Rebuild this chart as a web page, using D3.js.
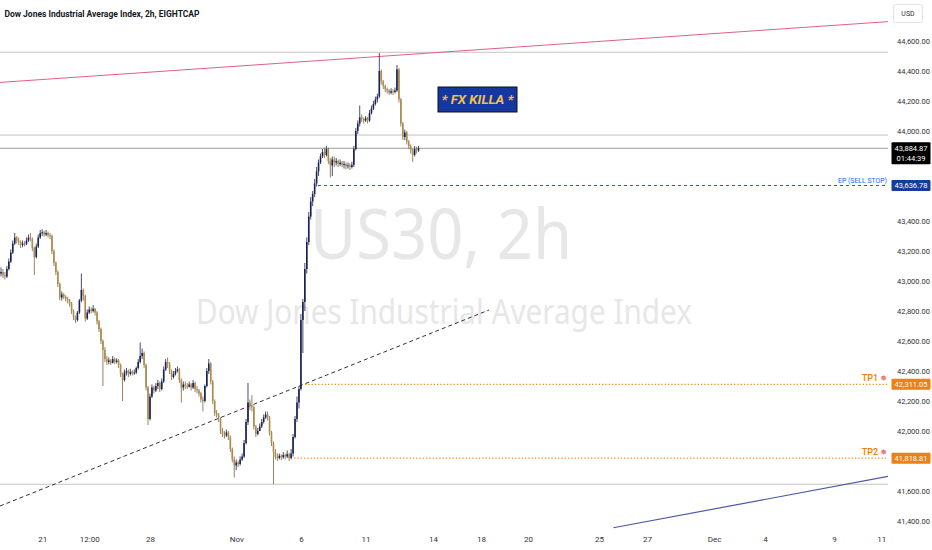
<!DOCTYPE html>
<html><head><meta charset="utf-8">
<script src="https://cdn.jsdelivr.net/npm/d3@7"></script>
<style>
body{margin:0;background:#fff;}
svg{display:block;font-family:Roboto,"Noto Sans",sans-serif;}
</style>
</head><body>
<svg id="c" width="932" height="550"></svg>
<script>
// ---------------- DATA ----------------
const chartTitle = "Dow Jones Industrial Average Index, 2h, EIGHTCAP";
const firstOpen = 43050;
const closes = [
43060,43040,43030,43080,43130,43190,43250,43290,43270,43260,
43240,43250,43245,43270,43290,43280,43220,43160,43230,43290,
43320,43325,43310,43320,43305,43300,43200,43120,43060,42980,
42890,42910,42895,42880,42870,42850,42800,42760,42740,42790,
42870,42940,42900,42750,42790,42810,42800,42815,42790,42730,
42680,42600,42540,42480,42460,42470,42455,42480,42460,42470,
42440,42380,42340,42390,42400,42380,42395,42385,42390,42420,
42460,42500,42520,42440,42290,42080,42230,42290,42270,42300,
42320,42280,42330,42410,42460,42450,42400,42360,42380,42400,
42410,42340,42290,42310,42300,42295,42310,42290,42320,42280,
42270,42250,42210,42200,42300,42400,42450,42330,42200,42120,
42110,42080,42000,41980,41970,41990,41960,41880,41810,41770,
41790,41780,41810,41830,41920,42060,42190,42170,42160,42030,
41980,42000,42030,42060,42090,42110,42090,41990,41920,41860,
41830,41820,41835,41825,41840,41830,41845,41820,41850,41960,
42080,42190,42280,42740,42860,43080,43260,43430,43530,43580,
43650,43730,43790,43830,43860,43840,43880,43800,43770,43810,
43790,43800,43780,43790,43775,43780,43765,43770,43760,43775,
43880,44000,44050,44090,44080,44070,44085,44070,44120,44150,
44180,44210,44230,44400,44330,44300,44280,44270,44255,44265,
44260,44270,44410,44210,44050,43960,43990,43930,43900,43870,
43840,43880,43870,43884.87];
const highs = [
43090,43080,43060,43100,43150,43210,43270,43320,43300,43290,
43270,43270,43265,43290,43310,43320,43290,43230,43250,43310,
43340,43345,43335,43340,43330,43320,43310,43210,43130,43070,
42990,42930,42920,42905,42895,42880,42860,42810,42770,42800,
42880,43050,42950,42910,42810,42830,42825,42840,42820,42800,
42740,42690,42610,42560,42500,42490,42480,42500,42490,42485,
42480,42450,42390,42410,42420,42410,42415,42405,42410,42430,
42480,42590,42550,42530,42450,42300,42250,42310,42300,42320,
42340,42330,42350,42430,42480,42490,42460,42410,42400,42420,
42430,42420,42350,42330,42330,42320,42330,42320,42340,42330,
42300,42280,42260,42230,42310,42420,42480,42460,42340,42210,
42140,42120,42090,42020,42000,42010,42000,41970,41890,41830,
41810,41800,41830,41850,41940,42080,42320,42210,42240,42170,
42040,42020,42050,42080,42110,42130,42130,42100,42000,41930,
41880,41850,41850,41845,41860,41850,41870,41855,41880,41980,
42100,42230,42300,42780,42880,43120,43290,43460,43560,43600,
43680,43760,43810,43850,43880,43890,43900,43890,43820,43830,
43830,43820,43810,43810,43800,43800,43790,43790,43785,43795,
43900,44020,44070,44170,44110,44090,44100,44095,44140,44170,
44200,44230,44250,44520,44410,44340,44310,44290,44280,44285,
44280,44290,44440,44420,44220,44060,44010,44000,43940,43910,
43880,43900,43895,43900];
const lows = [
43030,43020,43010,43020,43070,43120,43180,43240,43250,43240,
43220,43225,43230,43240,43260,43265,43200,43040,43150,43220,
43280,43300,43295,43300,43290,43280,43180,43100,43040,42960,
42870,42870,42880,42865,42850,42830,42780,42740,42720,42730,
42780,42860,42870,42730,42740,42780,42785,42790,42770,42710,
42660,42580,42300,42460,42440,42445,42440,42450,42445,42450,
42420,42360,42200,42330,42370,42360,42370,42370,42375,42380,
42410,42450,42480,42420,42270,42040,42070,42220,42250,42260,
42280,42260,42270,42320,42400,42420,42380,42340,42350,42370,
42390,42320,42190,42270,42280,42280,42290,42270,42280,42260,
42250,42230,42190,42130,42190,42290,42380,42310,42180,42100,
42090,42060,41980,41960,41950,41960,41940,41860,41790,41690,
41740,41760,41770,41800,41820,41910,42040,42140,42130,42010,
41960,41970,42000,42020,42050,42080,42070,41970,41900,41645,
41810,41800,41810,41805,41815,41810,41820,41800,41810,41830,
41950,42060,42150,42270,42520,42800,43050,43240,43410,43500,
43560,43630,43700,43780,43820,43820,43830,43780,43690,43700,
43760,43770,43760,43765,43760,43750,43745,43750,43740,43750,
43760,43870,43980,44030,44060,44050,44060,44050,44060,44110,
44140,44170,44190,44220,44310,44280,44260,44250,44240,44245,
44240,44250,44260,44190,44030,43940,43940,43910,43880,43850,
43795,43830,43850,43860];

const xTickLabels = ["21","12:00","28","Nov","6","11","14","18","20","25","27","Dec","4","9","11"];
const xTickIdx    = [21, 45, 76, 120, 153, 186, 220.4, 244.9, 268.9, 305.1, 329.6, 363.8, 389.8, 425, 449];
// labels hidden by the price boxes (41,800 / 43,600 / 43,800) are left out
const yTicks = [41400,41600,42000,42200,42400,42600,42800,43000,43200,43400,44000,44200,44400,44600];

const lastPrice = 43884.87, lastCountdown = "01:44:39";
const epPrice = 43636.78, epStart = 161.7, epText = "EP (SELL STOP)";
const tp1Price = 42311.05, tp1Start = 153.4;
const tp2Price = 41818.81, tp2Start = 149.5;
const grayLevels = [44525, 43973, 41645];
const pinkLine = [[-0.5,44324],[452.5,44729]];
const dashLine = [[-0.5,41500],[249,42807]];
const blueLine = [[312.4,41355],[452.5,41697]];
const badgeText = "* FX KILLA *";

// ---------------- CHART ----------------
const PR = 888, PB = 530;
const x = d3.scaleLinear().domain([0,452.5]).range([1,888]);
const y = d3.scaleLinear().domain([41400,44600]).range([521,41]);
const svg = d3.select("#c");
svg.append("defs").append("clipPath").attr("id","plot")
  .append("rect").attr("x",0).attr("y",0).attr("width",PR).attr("height",PB);

const g = svg.append("g").attr("clip-path","url(#plot)");

// watermark
g.append("text").attr("x",441).attr("y",259).attr("text-anchor","middle")
  .attr("font-family","'Noto Sans',sans-serif").attr("font-size",70).attr("fill","#e7e7e7")
  .attr("textLength",262).attr("lengthAdjust","spacingAndGlyphs").text("US30, 2h");
g.append("text").attr("x",444).attr("y",324).attr("text-anchor","middle")
  .attr("font-family","'Noto Sans',sans-serif").attr("font-size",35).attr("fill","#e7e7e7")
  .attr("textLength",496).attr("lengthAdjust","spacingAndGlyphs").text("Dow Jones Industrial Average Index");

// horizontal gray levels
g.selectAll(".lvl").data(grayLevels).join("line")
  .attr("x1",0).attr("x2",PR).attr("y1",d=>y(d)).attr("y2",d=>y(d))
  .attr("stroke","#c4c4c4").attr("stroke-width",1);
// last price line
g.append("line").attr("x1",0).attr("x2",PR).attr("y1",y(lastPrice)).attr("y2",y(lastPrice))
  .attr("stroke","#9a9a9a").attr("stroke-width",1);

const line = d3.line().x(d=>x(d[0])).y(d=>y(d[1]));
g.append("path").attr("d",line(pinkLine)).attr("fill","none").attr("stroke","#e0608a").attr("stroke-width",1);
g.append("path").attr("d",line(dashLine)).attr("fill","none").attr("stroke","#333").attr("stroke-width",1).attr("stroke-dasharray","4,3");
g.append("path").attr("d",line(blueLine)).attr("fill","none").attr("stroke","#4a58a6").attr("stroke-width",1.2);

// EP / TP lines
g.append("line").attr("x1",x(epStart)).attr("x2",PR).attr("y1",y(epPrice)).attr("y2",y(epPrice))
  .attr("stroke","#2850c0").attr("stroke-width",1).attr("stroke-dasharray","3,3");
[[tp1Price,tp1Start],[tp2Price,tp2Start]].forEach(([p,s])=>{
  g.append("line").attr("x1",x(s)).attr("x2",PR).attr("y1",y(p)).attr("y2",y(p))
   .attr("stroke","#f28a1c").attr("stroke-width",1.2).attr("stroke-dasharray","1.3,2");
});

// candles
const bars = closes.map((c,i)=>({i,o:i?closes[i-1]:firstOpen,h:highs[i],l:lows[i],c}));
g.selectAll(".wick").data(bars).join("line")
  .attr("x1",d=>x(d.i)).attr("x2",d=>x(d.i)).attr("y1",d=>y(d.h)).attr("y2",d=>y(d.l))
  .attr("stroke",d=>d.c>=d.o?"#343a5e":"#8a7650").attr("stroke-width",0.9);
g.selectAll(".body").data(bars).join("rect")
  .attr("x",d=>x(d.i)-0.8).attr("width",1.6)
  .attr("y",d=>y(Math.max(d.o,d.c)))
  .attr("height",d=>Math.max(0.9,Math.abs(y(d.o)-y(d.c))))
  .attr("fill",d=>d.c>=d.o?"#1a2253":"#b08a48");

// labels in plot
g.append("text").attr("x",887).attr("y",182.5).attr("text-anchor","end").attr("font-size",8)
  .attr("fill","#2962ff").attr("textLength",49).attr("lengthAdjust","spacingAndGlyphs").text(epText);
[["TP1",tp1Price],["TP2",tp2Price]].forEach(([t,p])=>{
  const tx = g.append("text").attr("x",887).attr("y",y(p)-3.5).attr("text-anchor","end")
    .attr("font-size",9).attr("font-weight",500).attr("fill","#f57c00");
  tx.append("tspan").text(t+" ");
  tx.append("tspan").attr("fill","#e53935").attr("font-family","'DejaVu Sans'").attr("font-size",8).text("✵");
});

// badge
const bx = 438, by = 87;
g.append("rect").attr("x",bx).attr("y",by).attr("width",79).attr("height",25)
  .attr("fill","#1537a0").attr("stroke","#111").attr("stroke-width",1);
g.append("text").attr("x",bx+39.5).attr("y",by+17).attr("text-anchor","middle")
  .attr("font-size",13).attr("font-weight","bold").attr("font-style","italic")
  .attr("fill","#f2c04a").attr("textLength",72).attr("lengthAdjust","spacingAndGlyphs").text(badgeText);

// title
svg.append("text").attr("x",4.5).attr("y",17).attr("font-size",8.5).attr("font-weight",700)
  .attr("fill","#131722").attr("textLength",195).attr("lengthAdjust","spacingAndGlyphs").text(chartTitle);

// y axis
const ya = svg.append("g").attr("transform","translate(894,0)")
  .call(d3.axisRight(y).tickValues(yTicks).tickSize(0).tickFormat(d3.format(",.2f")));
ya.select(".domain").remove();
ya.selectAll("text").attr("font-size",7.5).attr("fill","#333").attr("font-family","Roboto,sans-serif");

// x axis
const xa = svg.append("g").attr("transform","translate(0,533)")
  .call(d3.axisBottom(x).tickValues(xTickIdx).tickSize(0).tickFormat((d,k)=>xTickLabels[k]));
xa.select(".domain").remove();
xa.selectAll("text").attr("font-size",8).attr("fill","#333").attr("font-family","Roboto,sans-serif");

// price boxes
function box(p, fill, h, lines){
  const yc = y(p);
  const top = lines.length>1 ? yc-6 : yc-h/2;
  svg.append("rect").attr("x",891.5).attr("y",top).attr("width",39).attr("height",h).attr("fill",fill).attr("rx",1);
  lines.forEach((t,k)=>svg.append("text").attr("x",911).attr("y",top+ (lines.length>1? 8.5+k*10.5 : h/2+2.7))
    .attr("text-anchor","middle").attr("font-size",7.5).attr("fill","#fff").text(t));
}
box(lastPrice,"#000",22,[d3.format(",.2f")(lastPrice), lastCountdown]);
box(epPrice,"#173d9b",11,[d3.format(",.2f")(epPrice)]);
box(tp1Price,"#f07f14",11,[d3.format(",.2f")(tp1Price)]);
box(tp2Price,"#f07f14",11,[d3.format(",.2f")(tp2Price)]);

// USD box
svg.append("rect").attr("x",893.5).attr("y",4.5).attr("width",29).attr("height",18).attr("rx",2)
  .attr("fill","#fff").attr("stroke","#e0e3eb");
svg.append("text").attr("x",908).attr("y",16).attr("text-anchor","middle").attr("font-size",7)
  .attr("fill","#333").text("USD");
</script>
</body></html>
